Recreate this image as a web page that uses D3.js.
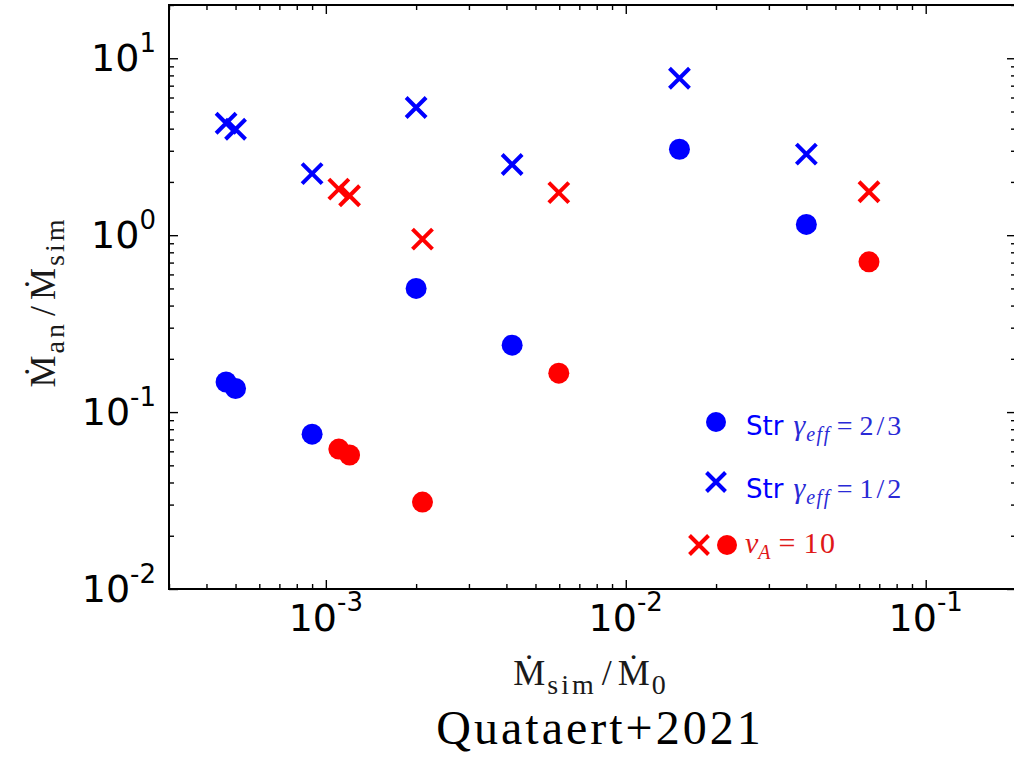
<!DOCTYPE html>
<html>
<head>
<meta charset="utf-8">
<script src="https://cdn.jsdelivr.net/npm/d3@7"></script>
<style>
  body { margin: 0; background: #fff; }
  svg { display: block; }
</style>
</head>
<body>
<svg id="chart" width="1014" height="768"></svg>
<script>
// Analytic vs simulated accretion rates (log–log)
// Stratified runs: simulated rate and the ratio for two effective adiabatic indices
const strMsim = [4.65e-4, 5.0e-4, 9.0e-4, 2.0e-3, 4.18e-3, 0.0151, 0.040];
const strGamma23 = [0.148, 0.136, 0.075, 0.50, 0.239, 3.06, 1.15];
const strGamma12 = [4.29, 3.97, 2.23, 5.27, 2.51, 7.71, 2.87];
// v_A = 10 runs
const vaMsim = [1.105e-3, 1.2e-3, 2.1e-3, 5.98e-3, 0.0647];
const vaGamma23 = [0.0618, 0.0572, 0.031, 0.166, 0.707];
const vaGamma12 = [1.82, 1.67, 0.949, 1.74, 1.76];

// tick labels
const xMajor = [1e-3, 1e-2, 1e-1];
const xExp = ["-3", "-2", "-1"];
const yMajor = [1e-2, 1e-1, 1, 10];
const yExp = ["-2", "-1", "0", "1"];

const BLUE = "#0000ff";
const RED = "#ff0000";

const svg = d3.select("#chart");
const plotL = 169, plotR = 1016, plotT = 5, plotB = 589;

const x = d3.scaleLog().domain([3e-4, 0.2]).range([plotL, plotR]);
const y = d3.scaleLog().domain([0.01, 20]).range([plotB, plotT]);

function minorTicks(scale) {
  const [a, b] = scale.domain();
  const out = [];
  for (let e = Math.floor(Math.log10(a)); e <= Math.ceil(Math.log10(b)); e++) {
    for (let k = 2; k <= 9; k++) {
      const v = k * Math.pow(10, e);
      if (v >= a && v <= b) out.push(v);
    }
  }
  return out;
}

// inward ticks on all four sides
function addAxis(axisFn, scale, values, size, transform) {
  const g = svg.append("g").attr("transform", transform)
    .call(axisFn(scale).tickValues(values).tickSize(-size).tickFormat(""));
  g.select(".domain").remove();
  g.selectAll("line").attr("stroke", "#000").attr("stroke-width", 1.4);
}
const xMin = minorTicks(x), yMin = minorTicks(y);
addAxis(d3.axisBottom, x, xMin, 5, `translate(0,${plotB})`);
addAxis(d3.axisBottom, x, xMajor, 9, `translate(0,${plotB})`);
addAxis(d3.axisTop, x, xMin, 5, `translate(0,${plotT})`);
addAxis(d3.axisTop, x, xMajor, 9, `translate(0,${plotT})`);
addAxis(d3.axisLeft, y, yMin, 5, `translate(${plotL},0)`);
addAxis(d3.axisLeft, y, yMajor, 9, `translate(${plotL},0)`);
addAxis(d3.axisRight, y, yMin, 5, `translate(${plotR},0)`);
addAxis(d3.axisRight, y, yMajor, 9, `translate(${plotR},0)`);

// frame
svg.append("rect")
  .attr("x", plotL).attr("y", plotT)
  .attr("width", plotR - plotL).attr("height", plotB - plotT)
  .attr("fill", "none").attr("stroke", "#000").attr("stroke-width", 2);

// tick labels with superscript exponents
const sans = "'DejaVu Sans', sans-serif";
xMajor.forEach((v, i) => {
  const t = svg.append("text")
    .attr("x", x(v)).attr("y", plotB + 42)
    .attr("text-anchor", "middle")
    .attr("font-family", sans).attr("font-size", 38).attr("fill", "#000");
  t.append("tspan").text("10");
  t.append("tspan").attr("dy", -20).attr("font-size", 26).text(xExp[i]);
});
yMajor.forEach((v, i) => {
  const t = svg.append("text")
    .attr("x", 156).attr("y", y(v) + 13)
    .attr("text-anchor", "end")
    .attr("font-family", sans).attr("font-size", 38).attr("fill", "#000");
  t.append("tspan").text("10");
  t.append("tspan").attr("dy", -19).attr("font-size", 26).text(yExp[i]);
});

// axis titles: dotted M with roman subscripts
const serif = "'Liberation Serif', 'DejaVu Serif', serif";
function mdotLabel(sel, sub1, sub2) {
  sel.append("tspan").text("\u1E40");
  sel.append("tspan").attr("dy", 9).attr("dx", 2).attr("font-size", 28)
    .attr("letter-spacing", 3).text(sub1);
  sel.append("tspan").attr("dy", -9).attr("dx", 5).text("/");
  sel.append("tspan").attr("dx", 6).text("\u1E40");
  sel.append("tspan").attr("dy", 9).attr("dx", 2).attr("font-size", 28)
    .attr("letter-spacing", 3).text(sub2);
}
const xl = svg.append("text")
  .attr("x", 591).attr("y", 685)
  .attr("text-anchor", "middle")
  .attr("font-family", serif).attr("font-size", 36).attr("fill", "#1a1a1a");
mdotLabel(xl, "sim", "0");

const yl = svg.append("text")
  .attr("transform", "translate(55,302) rotate(-90)")
  .attr("text-anchor", "middle")
  .attr("font-family", serif).attr("font-size", 36).attr("fill", "#1a1a1a");
mdotLabel(yl, "an", "sim");

svg.append("text")
  .attr("x", 600).attr("y", 744)
  .attr("text-anchor", "middle")
  .attr("font-family", serif).attr("font-size", 48)
  .attr("letter-spacing", 3).attr("fill", "#000")
  .text("Quataert+2021");

// markers
const crossPath = s => `M${-s},${-s}L${s},${s}M${-s},${s}L${s},${-s}`;
function circles(xs, ys, color) {
  svg.append("g").selectAll("circle")
    .data(xs.map((v, i) => [v, ys[i]]))
    .join("circle")
    .attr("cx", d => x(d[0])).attr("cy", d => y(d[1]))
    .attr("r", 10.5).attr("fill", color);
}
function crosses(xs, ys, color) {
  svg.append("g").selectAll("path")
    .data(xs.map((v, i) => [v, ys[i]]))
    .join("path")
    .attr("transform", d => `translate(${x(d[0])},${y(d[1])})`)
    .attr("d", crossPath(10))
    .attr("fill", "none").attr("stroke", color).attr("stroke-width", 4);
}
circles(strMsim, strGamma23, BLUE);
crosses(strMsim, strGamma12, BLUE);
circles(vaMsim, vaGamma23, RED);
crosses(vaMsim, vaGamma12, RED);

// legend
const lg = svg.append("g");
lg.append("circle").attr("cx", 716).attr("cy", 422).attr("r", 10).attr("fill", BLUE);
lg.append("path").attr("transform", "translate(716,482)").attr("d", crossPath(9.5))
  .attr("fill", "none").attr("stroke", BLUE).attr("stroke-width", 4);
lg.append("path").attr("transform", "translate(699,545)").attr("d", crossPath(9.5))
  .attr("fill", "none").attr("stroke", RED).attr("stroke-width", 4);
lg.append("circle").attr("cx", 727).attr("cy", 545).attr("r", 10).attr("fill", RED);

function gammaEntry(yBase, value) {
  const mathBlue = "#2a2ad6";
  const t = lg.append("text").attr("x", 746).attr("y", yBase).attr("fill", BLUE);
  t.append("tspan").attr("font-family", sans).attr("font-size", 26).text("Str");
  t.append("tspan").attr("dx", 10).attr("font-family", serif).attr("font-style", "italic")
    .attr("font-size", 30).attr("fill", mathBlue).text("\u03B3");
  t.append("tspan").attr("dy", 6).attr("dx", 1).attr("font-family", serif).attr("font-style", "italic")
    .attr("font-size", 20).attr("letter-spacing", 1.5).attr("fill", mathBlue).text("eff");
  t.append("tspan").attr("dy", -6).attr("dx", 6).attr("font-family", serif)
    .attr("font-size", 28).attr("fill", mathBlue).text("=");
  t.append("tspan").attr("dx", 7).attr("font-family", serif)
    .attr("font-size", 28).attr("letter-spacing", 3).attr("fill", mathBlue).text(value);
}
gammaEntry(435, "2/3");
gammaEntry(498, "1/2");

const va = lg.append("text").attr("x", 745).attr("y", 553)
  .attr("font-family", serif).attr("fill", "#e01818");
va.append("tspan").attr("font-style", "italic").attr("font-size", 30).text("v");
va.append("tspan").attr("dy", 6).attr("font-style", "italic").attr("font-size", 20).text("A");
va.append("tspan").attr("dy", -6).attr("dx", 8).attr("font-size", 30).text("=");
va.append("tspan").attr("dx", 8).attr("font-size", 30).attr("letter-spacing", 1.5).text("10");
</script>
</body>
</html>
